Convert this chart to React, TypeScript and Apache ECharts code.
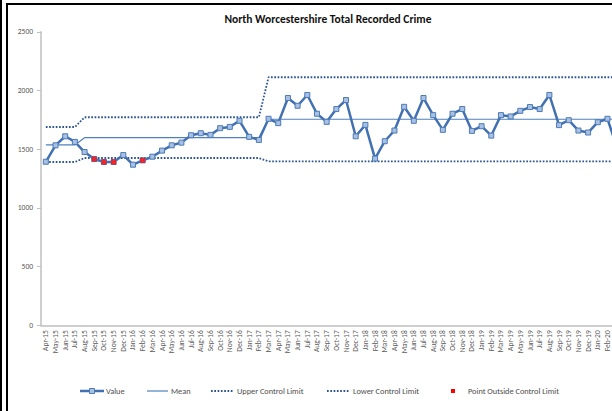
import React, { useEffect, useRef } from "react";
import * as echarts from "echarts";

const categories = [
  "Apr-15", "May-15", "Jun-15", "Jul-15", "Aug-15", "Sep-15", "Oct-15", "Nov-15", "Dec-15",
  "Jan-16", "Feb-16", "Mar-16", "Apr-16", "May-16", "Jun-16", "Jul-16", "Aug-16", "Sep-16", "Oct-16", "Nov-16", "Dec-16",
  "Jan-17", "Feb-17", "Mar-17", "Apr-17", "May-17", "Jun-17", "Jul-17", "Aug-17", "Sep-17", "Oct-17", "Nov-17", "Dec-17",
  "Jan-18", "Feb-18", "Mar-18", "Apr-18", "May-18", "Jun-18", "Jul-18", "Aug-18", "Sep-18", "Oct-18", "Nov-18", "Dec-18",
  "Jan-19", "Feb-19", "Mar-19", "Apr-19", "May-19", "Jun-19", "Jul-19", "Aug-19", "Sep-19", "Oct-19", "Nov-19", "Dec-19",
  "Jan-20", "Feb-20", "Mar-20",
];

// the last month lies past the cropped right edge; its label is not shown
const lastShownLabel = "Feb-20";

const values = [
  1393, 1533, 1610, 1562, 1476, 1416, 1391, 1391, 1450,
  1368, 1405, 1436, 1488, 1533, 1556, 1619, 1636, 1622, 1679, 1690, 1742,
  1605, 1579, 1759, 1722, 1936, 1870, 1962, 1802, 1733, 1842, 1919, 1610,
  1707, 1420, 1568, 1659, 1861, 1742, 1936, 1790, 1665, 1802, 1842, 1656,
  1696, 1616, 1790, 1779, 1827, 1859, 1842, 1962, 1705, 1747, 1659, 1642,
  1730, 1759, 1508,
];

// control chart phases (index of first month of each phase)
const phaseStarts = [0, 4, 23];
const meanLevels = [1536, 1598, 1755];
const uclLevels = [1689, 1772, 2113];
const lclLevels = [1391, 1425, 1396];

// months flagged as outside the control limits
const outsideIdx = [5, 6, 7, 10];

const yMin = 0;
const yMax = 2500;
const yInterval = 500;

const FONT = "Carlito, Lato, 'Liberation Sans', sans-serif";

function phaseOf(i: number): number {
  let p = 0;
  for (let k = 0; k < phaseStarts.length; k++) if (i >= phaseStarts[k]) p = k;
  return p;
}

export default function App() {
  const ref = useRef<HTMLDivElement>(null);

  useEffect(() => {
    if (!ref.current) return;
    const chart = echarts.init(ref.current, undefined, { renderer: "svg" });

    const mean = categories.map((_, i) => meanLevels[phaseOf(i)]);
    const ucl = categories.map((_, i) => uclLevels[phaseOf(i)]);
    const lcl = categories.map((_, i) => lclLevels[phaseOf(i)]);
    const outside = categories.map((_, i) => (outsideIdx.indexOf(i) >= 0 ? values[i] : null));
    const lastIdx = categories.indexOf(lastShownLabel);

    const dotColor = "#2c5592";
    const valueColor = "#4271b2";
    const meanColor = "#4f81bd";
    const legendY = 391;
    const legendText = { fontSize: 8.3, fill: "#4d4d4d", fontFamily: FONT, verticalAlign: "middle" as const };

    chart.setOption({
      animation: false,
      backgroundColor: "#ffffff",
      title: {
        text: "North Worcestershire Total Recorded Crime",
        left: "center",
        top: 12.5,
        padding: 0,
        textStyle: { fontSize: 11.5, fontWeight: "bold", color: "#111111", fontFamily: FONT },
      },
      grid: { left: 41, right: 34, top: 31.8, bottom: 85.7 },
      xAxis: {
        type: "category",
        data: categories,
        boundaryGap: true,
        axisLine: { show: true, lineStyle: { color: "#bfbfbf", width: 1.5 } },
        axisTick: { show: false },
        axisLabel: {
          interval: (idx: number) => idx <= lastIdx,
          rotate: 90,
          fontSize: 7.5,
          color: "#595959",
          fontFamily: FONT,
          margin: 5,
        },
        splitLine: { show: false },
      },
      yAxis: {
        type: "value",
        min: yMin,
        max: yMax,
        interval: yInterval,
        axisLine: { show: true, lineStyle: { color: "#bfbfbf", width: 1.5 } },
        axisTick: { show: true, length: 4, lineStyle: { color: "#bfbfbf" } },
        axisLabel: { fontSize: 7.5, color: "#595959", fontFamily: FONT, margin: 8, formatter: (v: number) => String(v) },
        splitLine: { show: false },
      },
      series: [
        {
          name: "Upper Control Limit",
          type: "line",
          data: ucl,
          symbol: "none",
          lineStyle: { color: dotColor, width: 1.8, type: [1.7, 1.6] },
          z: 2,
        },
        {
          name: "Lower Control Limit",
          type: "line",
          data: lcl,
          symbol: "none",
          lineStyle: { color: dotColor, width: 1.8, type: [1.7, 1.6] },
          z: 2,
        },
        {
          name: "Mean",
          type: "line",
          data: mean,
          symbol: "none",
          lineStyle: { color: meanColor, width: 1.2 },
          z: 3,
        },
        {
          name: "Value",
          type: "line",
          data: values,
          symbol: "rect",
          symbolSize: 5,
          lineStyle: { color: valueColor, width: 2.5 },
          itemStyle: { color: "#a9c0e0", borderColor: "#4a7ab8", borderWidth: 1 },
          z: 4,
        },
        {
          name: "Point Outside Control Limit",
          type: "scatter",
          data: outside,
          symbol: "rect",
          symbolSize: 5,
          itemStyle: { color: "#ff0000" },
          z: 5,
        },
      ],
      graphic: [
        { type: "rect", shape: { x: 7, y: 4, width: 800, height: 600 }, style: { fill: "none", stroke: "#000", lineWidth: 2 }, silent: true },
        { type: "line", shape: { x1: 1, y1: 0, x2: 1, y2: 420 }, style: { stroke: "#000", lineWidth: 2 }, silent: true },
        // legend: Value
        { type: "line", shape: { x1: 80, y1: legendY, x2: 104, y2: legendY }, style: { stroke: valueColor, lineWidth: 2.5 } },
        { type: "rect", shape: { x: 89.5, y: legendY - 2.5, width: 5, height: 5 }, style: { fill: "#a9c0e0", stroke: "#4a7ab8", lineWidth: 1 } },
        { type: "text", x: 106, y: legendY, style: { text: "Value", ...legendText } },
        // Mean
        { type: "line", shape: { x1: 147, y1: legendY, x2: 168, y2: legendY }, style: { stroke: meanColor, lineWidth: 1.2 } },
        { type: "text", x: 171, y: legendY, style: { text: "Mean", ...legendText } },
        // UCL
        { type: "line", shape: { x1: 211, y1: legendY, x2: 233, y2: legendY }, style: { stroke: dotColor, lineWidth: 1.8, lineDash: [1.7, 1.6] } },
        { type: "text", x: 237, y: legendY, style: { text: "Upper Control Limit", ...legendText } },
        // LCL
        { type: "line", shape: { x1: 327, y1: legendY, x2: 349, y2: legendY }, style: { stroke: dotColor, lineWidth: 1.8, lineDash: [1.7, 1.6] } },
        { type: "text", x: 353, y: legendY, style: { text: "Lower Control Limit", ...legendText } },
        // Outside
        { type: "rect", shape: { x: 451, y: legendY - 2, width: 4, height: 4 }, style: { fill: "#ff0000" } },
        { type: "text", x: 468, y: legendY, style: { text: "Point Outside Control Limit", ...legendText } },
      ],
    });

    return () => chart.dispose();
  }, []);

  return (
    <div style={{ position: "fixed", left: 0, top: 0, width: 612, height: 411, overflow: "hidden", background: "#fff" }}>
      <div ref={ref} style={{ width: 656, height: 411 }} />
    </div>
  );
}
